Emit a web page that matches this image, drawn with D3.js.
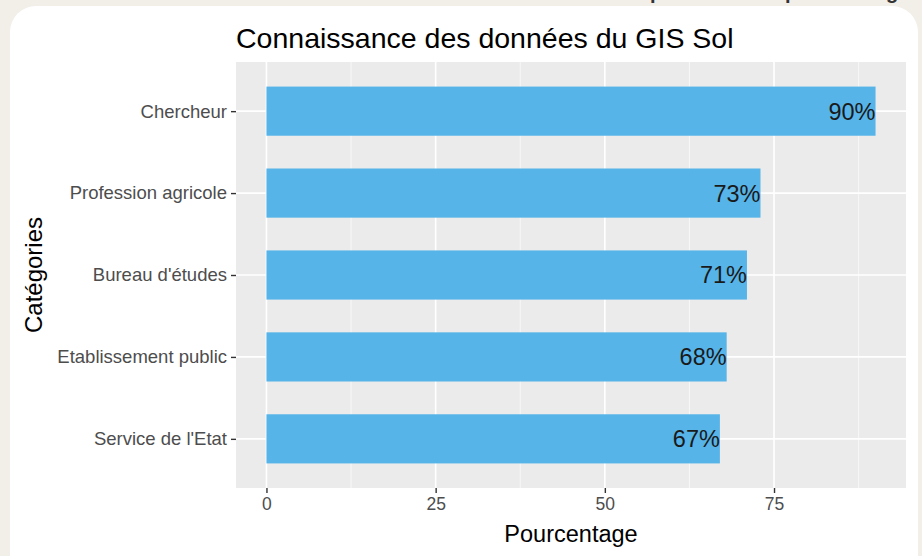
<!DOCTYPE html>
<html>
<head>
<meta charset="utf-8">
<script src="https://cdn.jsdelivr.net/npm/d3@7"></script>
<style>
  body { margin: 0; background: #f2eee8; }
  svg { display: block; font-family: "Liberation Sans", Arial, sans-serif; }
</style>
</head>
<body>
<div id="chart"></div>
<script>
// data
let categories = ["Chercheur", "Profession agricole", "Bureau d'études", "Etablissement public", "Service de l'Etat"];
let percentages = [90, 73, 71, 68, 67];
let xTicks = [0, 25, 50, 75];

let svgWidth = 922;
let svgHeight = 556;

// panel position
let margin = { top: 62, right: 16, bottom: 68, left: 236 };
let panelWidth = svgWidth - margin.left - margin.right;
let panelHeight = svgHeight - margin.top - margin.bottom;

let svg = d3.select('#chart')
    .append('svg')
    .attr('width', svgWidth)
    .attr('height', svgHeight);

// beige page + white rounded card
svg.append('rect')
    .attr('width', svgWidth).attr('height', svgHeight)
    .attr('fill', '#f2eee8');

// bits of text cut off above the card
[[650, 'p'], [785, 'p'], [886, 'g']].forEach(d => {
    svg.append('text')
        .attr('x', d[0]).attr('y', -1)
        .attr('font-size', 20)
        .attr('font-weight', 'bold')
        .attr('fill', '#333')
        .text(d[1]);
});

svg.append('rect')
    .attr('x', 10).attr('y', 6)
    .attr('width', 908).attr('height', 580)
    .attr('rx', 26)
    .attr('fill', '#ffffff');

let chartGroup = svg.append('g')
    .attr('transform', `translate(${margin.left}, ${margin.top})`);

// ggplot like expansion: 5% on the continuous axis
let maxVal = d3.max(percentages);
let xScale = d3.scaleLinear()
    .domain([-maxVal * 0.05, maxVal * 1.05])
    .range([0, panelWidth]);

// discrete axis: positions 1..5 with 0.6 added each side
let yPos = d3.scaleLinear()
    .domain([5.6, 0.4])
    .range([0, panelHeight]);
let yOf = cat => yPos(categories.length - categories.indexOf(cat));
let bandPx = yPos(0) - yPos(1);

// panel background
chartGroup.append('rect')
    .attr('width', panelWidth)
    .attr('height', panelHeight)
    .attr('fill', '#ebebeb');

// minor grid
let minor = [12.5, 37.5, 62.5, 87.5];
chartGroup.selectAll('.minor')
    .data(minor)
    .enter()
    .append('line')
    .attr('x1', d => xScale(d)).attr('x2', d => xScale(d))
    .attr('y1', 0).attr('y2', panelHeight)
    .attr('stroke', '#fafafa')
    .attr('stroke-width', 0.8);

// major grid
chartGroup.selectAll('.vmajor')
    .data(xTicks)
    .enter()
    .append('line')
    .attr('x1', d => xScale(d)).attr('x2', d => xScale(d))
    .attr('y1', 0).attr('y2', panelHeight)
    .attr('stroke', '#ffffff')
    .attr('stroke-width', 1.6);

chartGroup.selectAll('.hmajor')
    .data(categories)
    .enter()
    .append('line')
    .attr('x1', 0).attr('x2', panelWidth)
    .attr('y1', d => yOf(d)).attr('y2', d => yOf(d))
    .attr('stroke', '#ffffff')
    .attr('stroke-width', 1.6);

// bars
let barH = bandPx * 0.6;
chartGroup.selectAll('.bar')
    .data(categories)
    .enter()
    .append('rect')
    .attr('x', xScale(0))
    .attr('y', d => yOf(d) - barH / 2)
    .attr('width', (d, i) => xScale(percentages[i]) - xScale(0))
    .attr('height', barH)
    .attr('fill', '#56b4e9');

// value labels
chartGroup.selectAll('.lbl')
    .data(categories)
    .enter()
    .append('text')
    .attr('x', (d, i) => xScale(percentages[i]))
    .attr('y', d => yOf(d))
    .attr('dy', '0.36em')
    .attr('text-anchor', 'end')
    .attr('font-size', 23.5)
    .attr('fill', '#1a1a1a')
    .text((d, i) => percentages[i] + '%');

// axes
let xAxis = d3.axisBottom(xScale).tickValues(xTicks).tickSize(5).tickPadding(5);
let gx = chartGroup.append('g')
    .attr('transform', `translate(0, ${panelHeight})`)
    .call(xAxis);
gx.select('.domain').remove();
gx.selectAll('line').attr('stroke', '#333').attr('stroke-width', 1.4);
gx.selectAll('text').attr('fill', '#4d4d4d').attr('font-size', 17.5)
    .attr('font-family', '"Liberation Sans", Arial, sans-serif');

let yAxisScale = d3.scalePoint().domain(categories).range([yOf(categories[0]), yOf(categories[categories.length - 1])]);
let yAxis = d3.axisLeft(yAxisScale).tickSize(5).tickPadding(4);
let gy = chartGroup.append('g').call(yAxis);
gy.select('.domain').remove();
gy.selectAll('line').attr('stroke', '#333').attr('stroke-width', 1.4);
gy.selectAll('text').attr('fill', '#4d4d4d').attr('font-size', 18.5)
    .attr('font-family', '"Liberation Sans", Arial, sans-serif');

// titles
svg.append('text')
    .attr('x', margin.left)
    .attr('y', 48)
    .attr('font-size', 28.5)
    .attr('fill', '#000')
    .text('Connaissance des données du GIS Sol');

svg.append('text')
    .attr('x', margin.left + panelWidth / 2)
    .attr('y', 542)
    .attr('text-anchor', 'middle')
    .attr('font-size', 23.5)
    .attr('fill', '#000')
    .text('Pourcentage');

svg.append('text')
    .attr('transform', `translate(42, ${margin.top + panelHeight / 2}) rotate(-90)`)
    .attr('text-anchor', 'middle')
    .attr('font-size', 24)
    .attr('fill', '#000')
    .text('Catégories');
</script>
</body>
</html>
